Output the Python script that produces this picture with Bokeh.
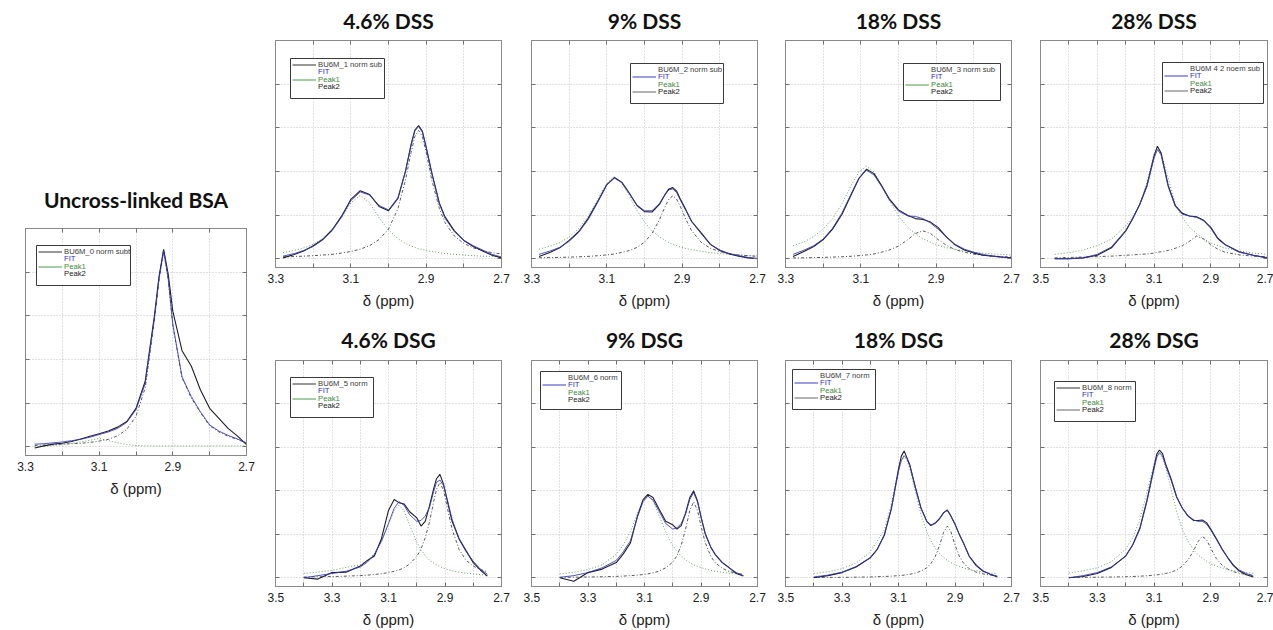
from bokeh.plotting import figure
from bokeh.models import (Range1d, FixedTicker, LinearAxis, Grid, Legend, LegendItem, Title,
                          BoxAnnotation, CustomLabelingPolicy)
from bokeh.layouts import row, column
from bokeh.embed import file_html
from bokeh.resources import INLINE

# ---------------- data ----------------
titles = ["Uncross-linked BSA", "4.6% DSS", "9% DSS", "18% DSS", "28% DSS",
          "4.6% DSG", "9% DSG", "18% DSG", "28% DSG"]
legend_names = ["BU6M_0 norm subt", "BU6M_1 norm sub", "BU6M_2 norm sub", "BU6M_3 norm sub",
                "BU6M 4 2 noem sub", "BU6M_5 norm", "BU6M_6 norm", "BU6M_7 norm", "BU6M_8 norm"]
x_starts = [3.3, 3.3, 3.3, 3.3, 3.5, 3.5, 3.5, 3.5, 3.5]

# Uncross-linked BSA
bsa_x = [3.275, 3.25, 3.225, 3.2, 3.175, 3.15, 3.125, 3.1, 3.075, 3.05, 3.025, 3.0, 2.975, 2.95,
         2.9375, 2.925, 2.9125, 2.9, 2.875, 2.85, 2.825, 2.8, 2.775, 2.75, 2.725, 2.7]
bsa_data = [-0.03, 0.02, 0.06, 0.08, 0.12, 0.18, 0.24, 0.30, 0.36, 0.45, 0.58, 0.88, 1.5, 3.0,
            3.9, 4.52, 3.95, 3.1, 2.2, 1.85, 1.3, 0.88, 0.65, 0.42, 0.25, 0.05]
bsa_fit = [0.06, 0.07, 0.09, 0.11, 0.14, 0.17, 0.22, 0.28, 0.34, 0.42, 0.56, 0.85, 1.45, 2.95,
           3.85, 4.5, 3.85, 2.8, 1.6, 1.15, 0.8, 0.5, 0.36, 0.26, 0.18, 0.09]
bsa_p1 = [0.0, 0.01, 0.03, 0.05, 0.08, 0.11, 0.15, 0.19, 0.14, 0.09, 0.05, 0.03, 0.02, 0.02,
          0.02, 0.02, 0.02, 0.02, 0.02, 0.02, 0.02, 0.02, 0.02, 0.02, 0.02, 0.02]
bsa_p2 = [0.03, 0.04, 0.05, 0.06, 0.07, 0.08, 0.1, 0.13, 0.17, 0.25, 0.4, 0.7, 1.35, 2.9,
          3.82, 4.48, 3.83, 2.78, 1.58, 1.12, 0.78, 0.48, 0.34, 0.24, 0.17, 0.08]

# 4.6% DSS
dss46_x = [3.28, 3.25, 3.225, 3.2, 3.175, 3.15, 3.125, 3.1, 3.075, 3.05, 3.025, 3.0, 2.975, 2.955,
           2.94, 2.93, 2.92, 2.91, 2.9, 2.885, 2.865, 2.85, 2.825, 2.8, 2.775, 2.75, 2.725, 2.7]
dss46_p1 = [0.14, 0.19, 0.25, 0.33, 0.46, 0.66, 0.94, 1.28, 1.45, 1.28, 0.94, 0.66, 0.46, 0.35,
            0.29, 0.26, 0.23, 0.21, 0.19, 0.165, 0.14, 0.12, 0.1, 0.085, 0.07, 0.06, 0.053, 0.046]
dss46_p2 = [0.043, 0.051, 0.06, 0.071, 0.085, 0.1, 0.13, 0.166, 0.22, 0.3, 0.44, 0.68, 1.15, 1.8,
            2.44, 2.8, 2.94, 2.8, 2.44, 1.8, 1.15, 0.83, 0.52, 0.35, 0.25, 0.185, 0.14, 0.11]
dss46_fit = [0.06, 0.12, 0.19, 0.28, 0.43, 0.64, 0.95, 1.33, 1.53, 1.46, 1.22, 1.12, 1.4, 2.0,
             2.6, 2.93, 3.03, 2.9, 2.55, 1.95, 1.25, 0.93, 0.62, 0.42, 0.3, 0.2, 0.1, 0.04]
dss46_data = [0.02, 0.1, 0.18, 0.3, 0.44, 0.66, 0.97, 1.36, 1.56, 1.47, 1.2, 1.1, 1.38, 2.0,
              2.62, 2.95, 3.05, 2.92, 2.56, 1.97, 1.28, 0.96, 0.64, 0.42, 0.28, 0.18, 0.08, 0.02]

# 9% DSS
dss9_x = [3.28, 3.25, 3.225, 3.2, 3.175, 3.15, 3.125, 3.1, 3.08, 3.06, 3.04, 3.02, 3.0, 2.98, 2.96,
          2.945, 2.935, 2.925, 2.915, 2.905, 2.89, 2.875, 2.85, 2.825, 2.8, 2.775, 2.75, 2.725, 2.7]
dss9_p1 = [0.22, 0.29, 0.37, 0.5, 0.69, 0.97, 1.35, 1.74, 1.88, 1.74, 1.44, 1.11, 0.84, 0.64, 0.5,
           0.42, 0.37, 0.33, 0.3, 0.27, 0.235, 0.21, 0.17, 0.14, 0.12, 0.1, 0.085, 0.074, 0.065]
dss9_p2 = [0.023, 0.027, 0.032, 0.037, 0.045, 0.055, 0.069, 0.089, 0.11, 0.144, 0.19, 0.26, 0.38,
           0.58, 0.9, 1.2, 1.37, 1.44, 1.37, 1.2, 0.9, 0.645, 0.38, 0.24, 0.165, 0.12, 0.089, 0.069, 0.055]
dss9_fit = [0.1, 0.18, 0.26, 0.4, 0.6, 0.89, 1.28, 1.69, 1.85, 1.74, 1.49, 1.23, 1.1, 1.1, 1.27,
            1.48, 1.58, 1.6, 1.52, 1.35, 1.1, 0.85, 0.58, 0.33, 0.2, 0.12, 0.07, 0.03, 0.01]
dss9_data = [0.05, 0.15, 0.25, 0.42, 0.62, 0.92, 1.3, 1.7, 1.86, 1.75, 1.5, 1.22, 1.08, 1.07, 1.25,
             1.48, 1.6, 1.63, 1.55, 1.37, 1.12, 0.86, 0.6, 0.33, 0.19, 0.11, 0.06, 0.02, 0.0]

# 18% DSS
dss18_x = [3.28, 3.25, 3.225, 3.2, 3.175, 3.15, 3.125, 3.105, 3.085, 3.065, 3.045, 3.025, 3.0, 2.975,
           2.955, 2.935, 2.915, 2.895, 2.875, 2.85, 2.825, 2.8, 2.775, 2.75, 2.725, 2.7]
dss18_p1 = [0.30, 0.39, 0.51, 0.68, 0.92, 1.26, 1.69, 1.99, 2.12, 1.99, 1.69, 1.34, 0.98, 0.72,
            0.57, 0.46, 0.38, 0.31, 0.26, 0.22, 0.18, 0.15, 0.13, 0.11, 0.10, 0.085]
dss18_p2 = [0.019, 0.022, 0.026, 0.031, 0.038, 0.046, 0.058, 0.071, 0.088, 0.11, 0.15, 0.2, 0.29,
            0.44, 0.58, 0.64, 0.58, 0.44, 0.32, 0.21, 0.15, 0.106, 0.079, 0.061, 0.048, 0.039]
dss18_fit = [0.1, 0.2, 0.3, 0.45, 0.7, 1.05, 1.5, 1.85, 2.03, 1.92, 1.66, 1.36, 1.09, 0.98,
             0.97, 0.92, 0.82, 0.68, 0.52, 0.33, 0.22, 0.15, 0.1, 0.06, 0.03, 0.02]
dss18_data = [0.05, 0.17, 0.28, 0.44, 0.68, 1.02, 1.48, 1.84, 2.05, 1.95, 1.68, 1.38, 1.12, 0.99,
              0.92, 0.9, 0.84, 0.72, 0.52, 0.32, 0.2, 0.13, 0.08, 0.06, 0.04, 0.02]

# 28% DSS
dss28_x = [3.45, 3.4, 3.35, 3.3, 3.25, 3.2, 3.175, 3.15, 3.125, 3.1, 3.088, 3.075, 3.05, 3.025,
           3.0, 2.975, 2.95, 2.925, 2.9, 2.875, 2.85, 2.8, 2.75, 2.7]
dss28_p1 = [0.1, 0.14, 0.2, 0.3, 0.45, 0.75, 0.95, 1.25, 1.75, 2.4, 2.52, 2.42, 1.85, 1.25,
            0.95, 0.72, 0.58, 0.46, 0.36, 0.3, 0.25, 0.18, 0.13, 0.1]
dss28_p2 = [0.02, 0.03, 0.04, 0.05, 0.06, 0.08, 0.09, 0.1, 0.11, 0.13, 0.15, 0.16, 0.19, 0.24,
            0.3, 0.4, 0.52, 0.45, 0.32, 0.22, 0.15, 0.09, 0.06, 0.04]
dss28_fit = [0.0, 0.0, 0.02, 0.1, 0.27, 0.65, 0.92, 1.25, 1.65, 2.3, 2.5, 2.38, 1.65, 1.2,
             1.02, 0.98, 0.95, 0.87, 0.7, 0.45, 0.32, 0.15, 0.08, 0.02]
dss28_data = [0.0, 0.0, 0.02, 0.08, 0.25, 0.63, 0.92, 1.25, 1.68, 2.35, 2.58, 2.42, 1.68, 1.22,
              1.04, 0.98, 0.96, 0.88, 0.72, 0.47, 0.33, 0.16, 0.08, 0.02]

# 4.6% DSG
dsg46_x = [3.4, 3.35, 3.3, 3.25, 3.2, 3.175, 3.15, 3.125, 3.1, 3.08, 3.063, 3.045, 3.025, 3.0,
           2.985, 2.97, 2.955, 2.94, 2.93, 2.918, 2.905, 2.89, 2.875, 2.85, 2.825, 2.8, 2.775, 2.75]
dsg46_p1 = [0.1, 0.13, 0.17, 0.24, 0.3, 0.39, 0.56, 0.84, 1.23, 1.55, 1.67, 1.54, 1.21, 0.82,
            0.65, 0.51, 0.41, 0.34, 0.3, 0.26, 0.22, 0.19, 0.16, 0.13, 0.106, 0.088, 0.074, 0.064]
dsg46_p2 = [0.018, 0.023, 0.029, 0.038, 0.052, 0.062, 0.076, 0.095, 0.12, 0.15, 0.18, 0.23, 0.32,
            0.49, 0.66, 0.92, 1.28, 1.75, 2.04, 2.19, 2.01, 1.56, 1.12, 0.65, 0.4, 0.27, 0.19, 0.14]
dsg46_fit = [0.0, 0.05, 0.1, 0.15, 0.25, 0.36, 0.54, 0.84, 1.25, 1.6, 1.75, 1.67, 1.45, 1.3,
             1.32, 1.42, 1.62, 1.99, 2.2, 2.25, 2.12, 1.75, 1.35, 0.88, 0.6, 0.38, 0.2, 0.08]
dsg46_data = [0.0, -0.03, 0.12, 0.13, 0.27, 0.4, 0.5, 0.9, 1.55, 1.8, 1.73, 1.7, 1.52, 1.38,
              1.19, 1.3, 1.65, 2.05, 2.28, 2.38, 2.15, 1.72, 1.3, 0.9, 0.62, 0.35, 0.18, 0.04]

# 9% DSG
dsg9_x = [3.4, 3.35, 3.3, 3.25, 3.2, 3.175, 3.15, 3.125, 3.105, 3.088, 3.07, 3.05, 3.025, 3.0,
          2.985, 2.97, 2.955, 2.94, 2.926, 2.912, 2.9, 2.885, 2.865, 2.85, 2.825, 2.8, 2.775, 2.75]
dsg9_p1 = [0.092, 0.128, 0.19, 0.3, 0.54, 0.75, 1.07, 1.48, 1.78, 1.88, 1.77, 1.46, 1.05, 0.74,
           0.61, 0.5, 0.42, 0.35, 0.3, 0.26, 0.235, 0.205, 0.17, 0.15, 0.127, 0.107, 0.092, 0.08]
dsg9_p2 = [0.011, 0.014, 0.018, 0.024, 0.033, 0.04, 0.049, 0.061, 0.075, 0.09, 0.114, 0.15, 0.23,
           0.36, 0.51, 0.75, 1.11, 1.54, 1.75, 1.54, 1.19, 0.81, 0.49, 0.35, 0.22, 0.145, 0.105, 0.079]
dsg9_fit = [0.01, 0.05, 0.12, 0.23, 0.4, 0.6, 0.85, 1.4, 1.75, 1.88, 1.79, 1.55, 1.25, 1.12,
            1.15, 1.25, 1.46, 1.8, 1.96, 1.74, 1.4, 1.0, 0.7, 0.54, 0.36, 0.23, 0.12, 0.05]
dsg9_data = [0.0, -0.08, 0.12, 0.2, 0.35, 0.55, 0.8, 1.42, 1.8, 1.92, 1.85, 1.6, 1.3, 1.22,
             1.12, 1.2, 1.48, 1.84, 2.0, 1.76, 1.4, 1.02, 0.7, 0.54, 0.35, 0.23, 0.1, 0.04]

# 18% DSG
dsg18_x = [3.4, 3.35, 3.3, 3.25, 3.2, 3.175, 3.15, 3.125, 3.1, 3.09, 3.08, 3.07, 3.06, 3.04, 3.02,
           3.0, 2.985, 2.97, 2.955, 2.94, 2.927, 2.915, 2.9, 2.885, 2.87, 2.85, 2.825, 2.8, 2.775, 2.75]
dsg18_p1 = [0.1, 0.14, 0.21, 0.34, 0.6, 0.85, 1.1, 1.7, 2.52, 2.7, 2.77, 2.7, 2.52, 1.97, 1.45,
            1.06, 0.85, 0.68, 0.56, 0.47, 0.4, 0.35, 0.3, 0.26, 0.23, 0.19, 0.16, 0.13, 0.11, 0.097]
dsg18_p2 = [0.007, 0.009, 0.011, 0.015, 0.02, 0.025, 0.03, 0.038, 0.05, 0.055, 0.062, 0.071, 0.081,
            0.11, 0.155, 0.23, 0.33, 0.49, 0.74, 1.05, 1.19, 1.07, 0.76, 0.5, 0.34, 0.21, 0.13,
            0.088, 0.063, 0.047]
dsg18_fit = [0.02, 0.06, 0.13, 0.26, 0.46, 0.65, 1.0, 1.6, 2.45, 2.7, 2.81, 2.74, 2.58, 2.06, 1.59,
             1.3, 1.22, 1.25, 1.35, 1.5, 1.55, 1.42, 1.22, 1.0, 0.8, 0.5, 0.3, 0.16, 0.08, 0.04]
dsg18_data = [0.0, 0.05, 0.12, 0.25, 0.46, 0.66, 0.98, 1.6, 2.5, 2.8, 2.92, 2.76, 2.6, 2.08, 1.6,
              1.3, 1.2, 1.26, 1.36, 1.5, 1.56, 1.43, 1.24, 1.0, 0.8, 0.5, 0.28, 0.15, 0.08, 0.02]

# 28% DSG
dsg28_x = [3.4, 3.35, 3.3, 3.25, 3.2, 3.175, 3.15, 3.125, 3.1, 3.09, 3.081, 3.07, 3.06, 3.04, 3.02,
           3.0, 2.98, 2.96, 2.945, 2.93, 2.915, 2.9, 2.88, 2.86, 2.84, 2.82, 2.8, 2.775, 2.75]
dsg28_p1 = [0.114, 0.16, 0.23, 0.37, 0.66, 0.92, 1.34, 1.96, 2.62, 2.8, 2.85, 2.77, 2.58, 2.04,
            1.52, 1.11, 0.84, 0.64, 0.53, 0.45, 0.38, 0.32, 0.27, 0.23, 0.19, 0.165, 0.145, 0.12, 0.105]
dsg28_p2 = [0.009, 0.011, 0.014, 0.018, 0.025, 0.03, 0.037, 0.047, 0.061, 0.068, 0.076, 0.087,
            0.099, 0.13, 0.18, 0.27, 0.41, 0.63, 0.83, 0.95, 0.88, 0.68, 0.44, 0.29, 0.2, 0.14,
            0.105, 0.076, 0.057]
dsg28_fit = [0.0, 0.05, 0.12, 0.25, 0.5, 0.75, 1.12, 1.75, 2.5, 2.78, 2.88, 2.8, 2.6, 2.25, 1.85,
             1.6, 1.43, 1.33, 1.3, 1.3, 1.24, 1.1, 0.88, 0.66, 0.47, 0.3, 0.18, 0.1, 0.04]
dsg28_data = [0.0, 0.03, 0.1, 0.24, 0.5, 0.76, 1.14, 1.78, 2.55, 2.85, 2.94, 2.86, 2.64, 2.28, 1.86,
              1.6, 1.42, 1.32, 1.32, 1.33, 1.27, 1.12, 0.9, 0.66, 0.46, 0.28, 0.16, 0.07, 0.02]

xs_all = [bsa_x, dss46_x, dss9_x, dss18_x, dss28_x, dsg46_x, dsg9_x, dsg18_x, dsg28_x]
data_all = [bsa_data, dss46_data, dss9_data, dss18_data, dss28_data, dsg46_data, dsg9_data, dsg18_data, dsg28_data]
fit_all = [bsa_fit, dss46_fit, dss9_fit, dss18_fit, dss28_fit, dsg46_fit, dsg9_fit, dsg18_fit, dsg28_fit]
p1_all = [bsa_p1, dss46_p1, dss9_p1, dss18_p1, dss28_p1, dsg46_p1, dsg9_p1, dsg18_p1, dsg28_p1]
p2_all = [bsa_p2, dss46_p2, dss9_p2, dss18_p2, dss28_p2, dsg46_p2, dsg9_p2, dsg18_p2, dsg28_p2]

# which legend entries show a line sample: (data, FIT, Peak1, Peak2)
legend_lines = [
    (1, 0, 1, 0), (1, 0, 1, 0), (0, 1, 0, 1), (0, 0, 1, 0), (0, 1, 0, 1),
    (1, 0, 1, 0), (0, 1, 0, 0), (0, 1, 0, 1), (1, 0, 0, 1),
]
# legend box inside the frame: (left, top, width, height) in px
legend_box = [(11, 17, 94, 40), (15, 18, 94, 40), (99, 23, 93, 40), (118, 23, 97, 37),
              (122, 22, 101, 41), (15, 17, 83, 40), (9, 11, 81, 38), (7, 9, 83, 40),
              (14, 21, 81, 40)]

# ---------------- styling ----------------
C_DATA = "#1e1e2a"
C_FIT = "#3636b8"
C_P1 = "#6c9c6c"
C_P2 = "#5a5a5a"
TXT_COLORS = ["#3c3c3c", "#2f2fc8", "#3e8a3e", "#1a1a1a"]
LINE_COLORS = ["#333333", "#3a3ac8", "#4f9a4f", "#666666"]
AX_COLOR = "#8a8a8a"
GRID_COLOR = "#c4c4c4"
NAN = float("nan")

NO_LABELS = CustomLabelingPolicy(code="for (const i of indices) { indices.unset(i) }\nreturn indices")


def style_axis(ax, labels=False):
    ax.axis_line_color = AX_COLOR
    ax.major_tick_line_color = "#707070"
    ax.minor_tick_line_color = "#707070"
    ax.major_tick_in = 4
    ax.major_tick_out = 0
    ax.minor_tick_in = 4
    ax.minor_tick_out = 0
    if not labels:
        ax.major_label_policy = NO_LABELS
        ax.major_label_text_font_size = "1px"
        ax.major_label_standoff = 0


def add_legend(p, fh, idx):
    left, top, w, h = legend_box[idx]
    p.add_layout(BoxAnnotation(left=left, right=left + w, top=fh - top, bottom=fh - top - h,
                               left_units="screen", right_units="screen",
                               top_units="screen", bottom_units="screen",
                               fill_color="white", fill_alpha=1.0,
                               line_color="#3a3a3a", line_width=1, line_alpha=1.0))
    labels = [legend_names[idx], "FIT", "Peak1", "Peak2"]
    for i, (lab, tc, lc, show) in enumerate(zip(labels, TXT_COLORS, LINE_COLORS, legend_lines[idx])):
        # legend-only sample renderer (a single undefined point draws nothing on the plot)
        r = p.line(x=[NAN], y=[NAN], line_color=lc, line_width=1,
                   line_alpha=1.0 if show else 0.0)
        center = top + 6 + 7.5 * i
        y = fh - center - 4.5
        p.add_layout(Legend(items=[LegendItem(label=lab, renderers=[r])],
                            location=(left + 2, y), border_line_alpha=0.0,
                            background_fill_alpha=0.0, label_text_color=tc,
                            label_text_font="Liberation Sans", label_text_font_size="7.7px",
                            label_height=9, glyph_height=9, glyph_width=24, label_standoff=2,
                            spacing=0, padding=0, margin=0))


def make_panel(idx, w, h, fw, fh, ml, mr, mt, mb, title_standoff):
    x0 = x_starts[idx]
    p = figure(width=w, height=h, x_range=Range1d(x0, 2.7), y_range=Range1d(-0.2, 5.0),
               x_axis_type=None, y_axis_type=None, output_backend="svg", toolbar_location=None,
               min_border_left=ml, min_border_right=mr, min_border_top=mt, min_border_bottom=mb,
               background_fill_color="white", border_fill_color="white")
    p.outline_line_color = AX_COLOR
    p.title = Title(text=titles[idx], align="center", text_font="Lato", text_font_style="bold",
                    text_font_size="21px", text_color="#111111", standoff=title_standoff)
    if x0 == 3.5:
        major = [3.5, 3.3, 3.1, 2.9, 2.7]
        minor = [3.4, 3.2, 3.0, 2.8]
    else:
        major = [3.3, 3.1, 2.9, 2.7]
        minor = [3.2, 3.0, 2.8]
    xt = FixedTicker(ticks=major, minor_ticks=minor)
    yt = FixedTicker(ticks=[0, 1, 2, 3, 4], minor_ticks=[])

    xb = LinearAxis(ticker=xt, axis_label="δ (ppm)")
    style_axis(xb, labels=True)
    xb.major_label_text_font = "Liberation Sans"
    xb.major_label_text_font_size = "12px"
    xb.major_label_text_color = "#222222"
    xb.major_label_standoff = 6
    xb.axis_label_text_font = "Liberation Sans"
    xb.axis_label_text_font_size = "15px"
    xb.axis_label_text_font_style = "normal"
    xb.axis_label_text_color = "#222222"
    xb.axis_label_standoff = 6
    p.add_layout(xb, "below")
    xa = LinearAxis(ticker=xt)
    style_axis(xa)
    p.add_layout(xa, "above")
    yl = LinearAxis(ticker=yt)
    style_axis(yl)
    p.add_layout(yl, "left")
    yr = LinearAxis(ticker=yt)
    style_axis(yr)
    p.add_layout(yr, "right")

    p.add_layout(Grid(dimension=0, ticker=xt, grid_line_color=GRID_COLOR, grid_line_dash="1 2",
                      minor_grid_line_color=GRID_COLOR, minor_grid_line_dash="1 2"))
    p.add_layout(Grid(dimension=1, ticker=yt, grid_line_color=GRID_COLOR, grid_line_dash="1 2"))

    xs = xs_all[idx]
    p.line(xs, p1_all[idx], line_color=C_P1, line_width=1, line_dash="1 2")
    p.line(xs, p2_all[idx], line_color=C_P2, line_width=1, line_dash="3 2 1 2")
    p.line(xs, data_all[idx], line_color=C_DATA, line_width=1.1)
    p.line(xs, fit_all[idx], line_color=C_FIT, line_width=1, line_alpha=0.85)

    add_legend(p, fh, idx)
    return p


# page origin is the window's top-left corner
bsa = make_panel(0, 267, 630, 221, 227, 25, 21, 228, 175, 26)
widths = [256, 254, 255, 241]
rights = [22, 20, 21, 6]
top = []
bottom = []
for k in range(4):
    top.append(make_panel(1 + k, widths[k], 311, 226, 227, 8, rights[k], 40, 44, 8))
    bottom.append(make_panel(5 + k, widths[k], 319, 226, 226, 8, rights[k], 49, 44, 10))

layout = row(bsa, column(row(*top), row(*bottom)))
open("out.html", "w").write(file_html(layout, INLINE))
